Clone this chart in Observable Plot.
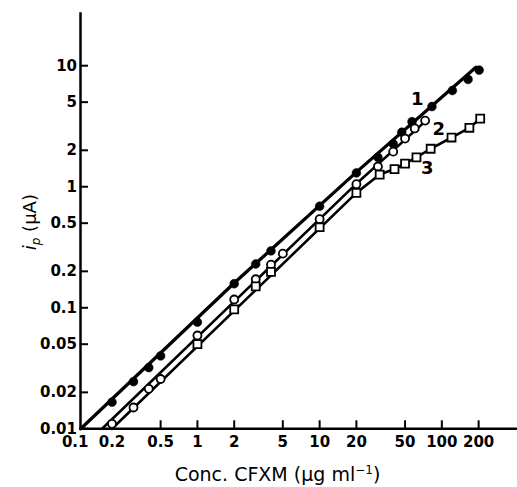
<!DOCTYPE html>
<html><head><meta charset="utf-8">
<script src="https://cdn.jsdelivr.net/npm/d3@7"></script>
<script src="https://cdn.jsdelivr.net/npm/@observablehq/plot@0.6"></script>
<style>body{margin:0;background:#fff;}</style>
</head><body><div id="chart"></div>
<script>
// tick values
const xTicks = [0.1, 0.2, 0.5, 1, 2, 5, 10, 20, 50, 100, 200];
const yTicks = [0.01, 0.02, 0.05, 0.1, 0.2, 0.5, 1, 2, 5, 10];

// series 1 (filled circles)
const s1X = [0.2, 0.3, 0.4, 0.5, 1, 2, 3, 4, 10, 20, 30, 40, 47, 57, 83, 122, 164, 202];
const s1Y = [0.0166, 0.0245, 0.032, 0.040, 0.076, 0.158, 0.23, 0.295, 0.69, 1.30, 1.75, 2.26, 2.82, 3.45, 4.6, 6.24, 7.7, 9.2];
// series 2 (open circles)
const s2X = [0.2, 0.3, 0.4, 0.5, 1, 2, 3, 4, 5, 10, 20, 30, 40, 50, 60, 73];
const s2Y = [0.011, 0.015, 0.0214, 0.0258, 0.059, 0.117, 0.172, 0.227, 0.28, 0.54, 1.05, 1.47, 1.95, 2.5, 3.03, 3.52];
// series 3 (open squares)
const s3X = [1, 2, 3, 4, 10, 20, 31, 41, 50, 62, 81, 120, 168, 206];
const s3Y = [0.050, 0.097, 0.150, 0.198, 0.463, 0.89, 1.26, 1.40, 1.55, 1.75, 2.06, 2.55, 3.07, 3.65];

// drawn curves
const fit1X = [0.111, 2, 20, 190];
const fit1Y = [0.01, 0.16, 1.32, 9.7];
const fit2X = [0.166, 20, 75];
const fit2Y = [0.01, 1.06, 3.55];
const fit3X = [0.2, 20, 31, 41, 50, 62, 81, 120, 168, 206];
const fit3Y = [0.01, 0.89, 1.26, 1.40, 1.55, 1.75, 2.06, 2.55, 3.07, 3.65];

// curve labels
const curveLabels = ["1", "2", "3"];
const labelX = [63, 94.5, 76];
const labelY = [5.3, 3.0, 1.41];

const xTitle = "Conc. CFXM (μg ml-1)";
const yTitle = "ip (μA)";

const zip = (xs, ys) => xs.map((x, i) => ({x, y: ys[i]}));
const s1 = zip(s1X, s1Y), s2 = zip(s2X, s2Y), s3 = zip(s3X, s3Y);
const f1 = zip(fit1X, fit1Y), f2 = zip(fit2X, fit2Y), f3 = zip(fit3X, fit3Y);
const labs = curveLabels.map((t, i) => ({t, x: labelX[i], y: labelY[i]}));

const font = "DejaVu Sans, sans-serif";
const chart = Plot.plot({
  width: 517, height: 487,
  marginLeft: 80, marginRight: 0, marginTop: 13, marginBottom: 58.7,
  style: {fontFamily: font, background: "white", color: "black"},
  x: {type: "log", domain: [0.1, 416], range: [74.7, 517]},
  y: {type: "log", domain: [0.01, 27]},
  marks: [
    Plot.frame({anchor: "left", strokeWidth: 2.5}),
    Plot.frame({anchor: "bottom", strokeWidth: 2.5}),
    Plot.axisY({ticks: yTicks, tickSize: -8, tickFormat: () => "", strokeWidth: 2, label: null}),
    Plot.axisX({ticks: xTicks.slice(1), tickSize: -8, tickFormat: () => "", strokeWidth: 2, label: null}),
    Plot.text(xTicks, {x: d => d, text: d => String(d), frameAnchor: "bottom", lineAnchor: "top", dy: 7.8, fontSize: 15, fontWeight: "bold", fill: "black"}),
    Plot.text(yTicks, {y: d => d, text: d => String(d), frameAnchor: "left", textAnchor: "end", lineAnchor: "middle", dx: -3.5, fontSize: 15, fontWeight: "bold", fill: "black"}),
    Plot.line(f1, {x: "x", y: "y", stroke: "black", strokeWidth: 3.3}),
    Plot.line(f2, {x: "x", y: "y", stroke: "black", strokeWidth: 2.6}),
    Plot.line(f3, {x: "x", y: "y", stroke: "black", strokeWidth: 2.6}),
    Plot.dot(s1, {x: "x", y: "y", r: 4.4, fill: "black", stroke: "black", strokeWidth: 0.5}),
    Plot.dot(s2, {x: "x", y: "y", r: 4, fill: "white", stroke: "black", strokeWidth: 1.8}),
    Plot.dot(s3, {x: "x", y: "y", r: 4.5, symbol: "square", fill: "white", stroke: "black", strokeWidth: 1.8}),
    Plot.text(labs, {x: "x", y: "y", text: "t", fontSize: 18, fontWeight: "bold", fill: "black"}),
    Plot.text([xTitle], {frameAnchor: "bottom", textAnchor: "middle", dx: -21.5, dy: 46, fontSize: 19, fill: "black", lineAnchor: "middle"}),
    Plot.text([yTitle], {frameAnchor: "left", textAnchor: "middle", dx: -50, dy: 1, rotate: -90, fontSize: 18, fill: "black", lineAnchor: "middle"})
  ]
});

function richen(svg, plain, parts) {
  for (const t of svg.querySelectorAll("text")) {
    if (t.textContent === plain) {
      while (t.firstChild) t.removeChild(t.firstChild);
      for (const p of parts) {
        const ts = document.createElementNS("http://www.w3.org/2000/svg", "tspan");
        ts.textContent = p.text;
        for (const [k, v] of Object.entries(p.attrs || {})) ts.setAttribute(k, v);
        t.appendChild(ts);
      }
    }
  }
}
richen(chart, xTitle, [
  {text: "Conc. CFXM (μg ml"},
  {text: "−1", attrs: {"font-size": "12", dy: "-7"}},
  {text: ")", attrs: {dy: "7"}}
]);
richen(chart, yTitle, [
  {text: "i", attrs: {"font-style": "italic"}},
  {text: "p", attrs: {"font-style": "italic", "font-size": "12", dy: "4"}},
  {text: " (μA)", attrs: {dy: "-4"}}
]);
document.getElementById("chart").appendChild(chart);
</script>
</body></html>
